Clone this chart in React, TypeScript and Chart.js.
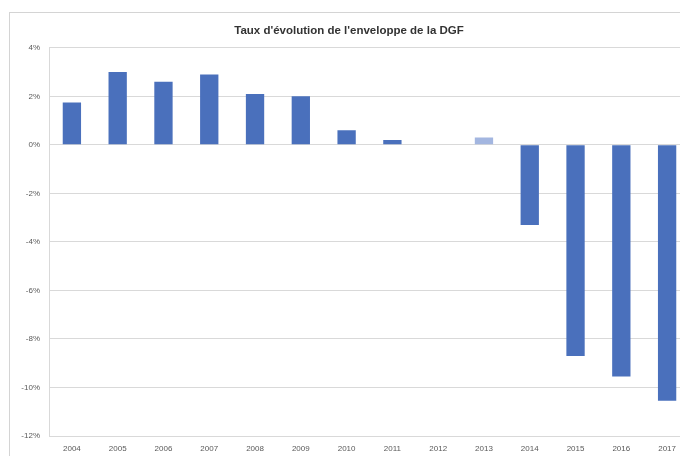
import React, { useEffect, useRef } from "react";
import { Chart, registerables } from "chart.js";

Chart.register(...registerables);

const TITLE = "Taux d'évolution de l'enveloppe de la DGF";
const years = ["2004", "2005", "2006", "2007", "2008", "2009", "2010", "2011", "2012", "2013", "2014", "2015", "2016", "2017"];
const rates = [1.75, 3.0, 2.6, 2.9, 2.1, 2.0, 0.6, 0.2, 0.0, 0.3, -3.3, -8.7, -9.55, -10.55];
const barColors = ["#4A70BC", "#4A70BC", "#4A70BC", "#4A70BC", "#4A70BC", "#4A70BC", "#4A70BC", "#4A70BC", "#4A70BC", "#A3B6E0", "#4A70BC", "#4A70BC", "#4A70BC", "#4A70BC"];
const yMin = -12;
const yMax = 4;
const yStep = 2;

export default function App() {
  const ref = useRef<HTMLCanvasElement | null>(null);

  useEffect(() => {
    if (!ref.current) return;
    const font = "'Liberation Sans', Arial, sans-serif";
    const chart = new Chart(ref.current, {
      type: "bar",
      data: {
        labels: years,
        datasets: [
          {
            data: rates,
            backgroundColor: barColors,
            borderWidth: 0,
            categoryPercentage: 1,
            barPercentage: 0.4,
          },
        ],
      },
      options: {
        responsive: false,
        animation: false,
        devicePixelRatio: 1,
        layout: { padding: { left: 0, right: 18, top: 0, bottom: 0 } },
        plugins: {
          legend: { display: false },
          tooltip: { enabled: false },
          title: {
            display: true,
            text: TITLE,
            color: "#333333",
            font: { family: font, size: 11.5, weight: "bold" },
            padding: { top: 16, bottom: 10 },
          },
        },
        scales: {
          x: {
            grid: { display: false, drawTicks: false },
            border: { display: false },
            ticks: {
              color: "#595959",
              font: { family: font, size: 8 },
              padding: 8,
              maxRotation: 0,
              autoSkip: false,
            },
            afterFit: (s: any) => {
              s.height = 20;
            },
          },
          y: {
            min: yMin,
            max: yMax,
            grid: { color: "#d9d9d9", drawTicks: false, lineWidth: 1 },
            border: { display: true, color: "#d9d9d9" },
            ticks: {
              stepSize: yStep,
              color: "#595959",
              font: { family: font, size: 8 },
              padding: 9,
              callback: (v: any) => v + "%",
            },
            afterFit: (s: any) => {
              s.width = 41;
            },
          },
        },
      },
    });
    return () => chart.destroy();
  }, []);

  return (
    <div style={{ position: "relative", width: 680, height: 448, overflow: "hidden", background: "#fff" }}>
      <div
        style={{
          position: "absolute",
          left: 1,
          top: 4,
          width: 720,
          height: 480,
          border: "1px solid #d4d4d4",
          boxSizing: "border-box",
        }}
      />
      <canvas
        ref={ref}
        width={700}
        height={448}
        style={{ position: "absolute", left: 0, top: 0, width: 700, height: 448, display: "block" }}
      />
    </div>
  );
}
